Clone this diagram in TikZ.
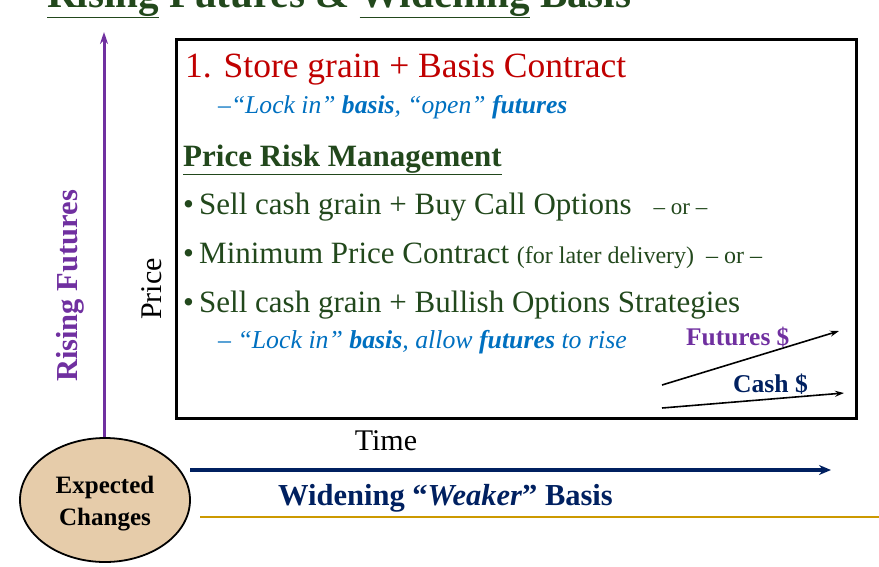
\documentclass[tikz,border=0pt]{standalone}
\usepackage{fontspec}
\setmainfont{Liberation Serif}
\usetikzlibrary{arrows.meta,shapes.geometric}
\definecolor{dgreen}{RGB}{34,72,28}
\definecolor{cred}{RGB}{192,0,0}
\definecolor{cblue}{RGB}{0,112,192}
\definecolor{cpurple}{RGB}{112,48,160}
\definecolor{cnavy}{RGB}{0,32,96}
\definecolor{cgold}{RGB}{204,153,0}
\definecolor{ctan}{RGB}{230,204,170}
\tikzset{
  txt/.style={inner sep=0pt, anchor=base west},
  fs/.style={font=\fontsize{#1}{#1}\selectfont}
}
\begin{document}
\begin{tikzpicture}[x=1pt,y=-1pt]
\useasboundingbox (0,0) rectangle (879,566);
\clip (0,0) rectangle (879,566);
% title
\node[txt, fs=41, text=dgreen] (title) at (47,7) {\bfseries\underline{Rising} Futures \& \underline{Widening} Basis};
% box
\node[draw=black, line width=2.5pt, minimum width=680pt, minimum height=379pt, anchor=north west, inner sep=0pt] (box) at (175,38) {};
% ellipse
\node[ellipse, draw=black, line width=1.8pt, fill=ctan, minimum width=170pt, minimum height=124pt, inner sep=0pt] (ell) at (105,500) {};
\node[align=center, inner sep=0pt, yshift=-4pt, font=\fontsize{25}{32}\selectfont\bfseries] (ellt) at (ell.center) {Expected\\Changes};
% purple axis
\coordinate (ptop) at (104,32);
\draw[cpurple, line width=3pt, -{Stealth[length=12pt,width=8pt]}] (ell.north -| ptop) -- (ptop);
\node[rotate=90, text=cpurple, font=\fontsize{30.5}{30}\selectfont\bfseries, inner sep=0pt] (rf) at (70,286) {Rising Futures};
\node[rotate=90, fs=30, inner sep=0pt] (price) at (152,289) {Price};
% navy axis
\coordinate (nend) at (831,470);
\coordinate (nstart) at (190,470);
\draw[cnavy, line width=3.5pt, -{Stealth[length=12pt,width=10pt]}] (nstart) -- (nend);
\node[fs=30, inner sep=0pt, anchor=base] (time) at (386,450) {Time};
\node[txt, text=cnavy, font=\fontsize{30.5}{30}\selectfont\bfseries] (wid) at (278,505) {Widening ``\textit{Weaker}'' Basis};
% gold line
\coordinate (g1) at (200,517);
\coordinate (g2) at (879,517);
\draw[cgold, line width=2pt] (g1) -- (g2);
% box text
\node[txt, text=cred, fs=35.5] (l1) at (185,77) {1. Store grain + Basis Contract};
\node[txt, text=cblue, fs=25.6] (l2) at (218,113) {\itshape --``Lock in'' \textbf{basis}, ``open'' \textbf{futures}};
\node[txt, text=dgreen, font=\fontsize{31}{31}\selectfont\bfseries] (l3) at (183,166) {\underline{Price Risk Management}};
\node[txt, text=dgreen, fs=31] (l4) at (183,214) {\textbullet\,Sell cash grain + Buy Call Options\hspace{22pt}{\fontsize{23}{23}\selectfont -- or --}};
\node[txt, text=dgreen, fs=31] (l5) at (183,263) {\textbullet\,Minimum Price Contract {\fontsize{24}{24}\selectfont(for later delivery)\ \ -- or --}};
\node[txt, text=dgreen, fs=31] (l6) at (183,312) {\textbullet\,Sell cash grain + Bullish Options Strategies};
\node[txt, text=cblue, fs=25.8] (l7) at (218,348) {\itshape -- ``Lock in'' \textbf{basis}, allow \textbf{futures} to rise};
% mini chart
\node[txt, text=cpurple, font=\fontsize{25.4}{25}\selectfont\bfseries] (fut) at (686,345) {Futures \$};
\node[txt, text=cnavy, font=\fontsize{25.6}{25}\selectfont\bfseries] (cash) at (733,392) {Cash \$};
\coordinate (fa) at (662,385);
\coordinate (fb) at (839,331);
\coordinate (ca) at (662,408);
\coordinate (cb) at (844,393);
\draw[black, line width=1.6pt, -{Stealth[length=9pt,width=6pt]}] (fa) -- (fb);
\draw[black, line width=1.6pt, -{Stealth[length=9pt,width=6pt]}] (ca) -- (cb);
\end{tikzpicture}
\end{document}
